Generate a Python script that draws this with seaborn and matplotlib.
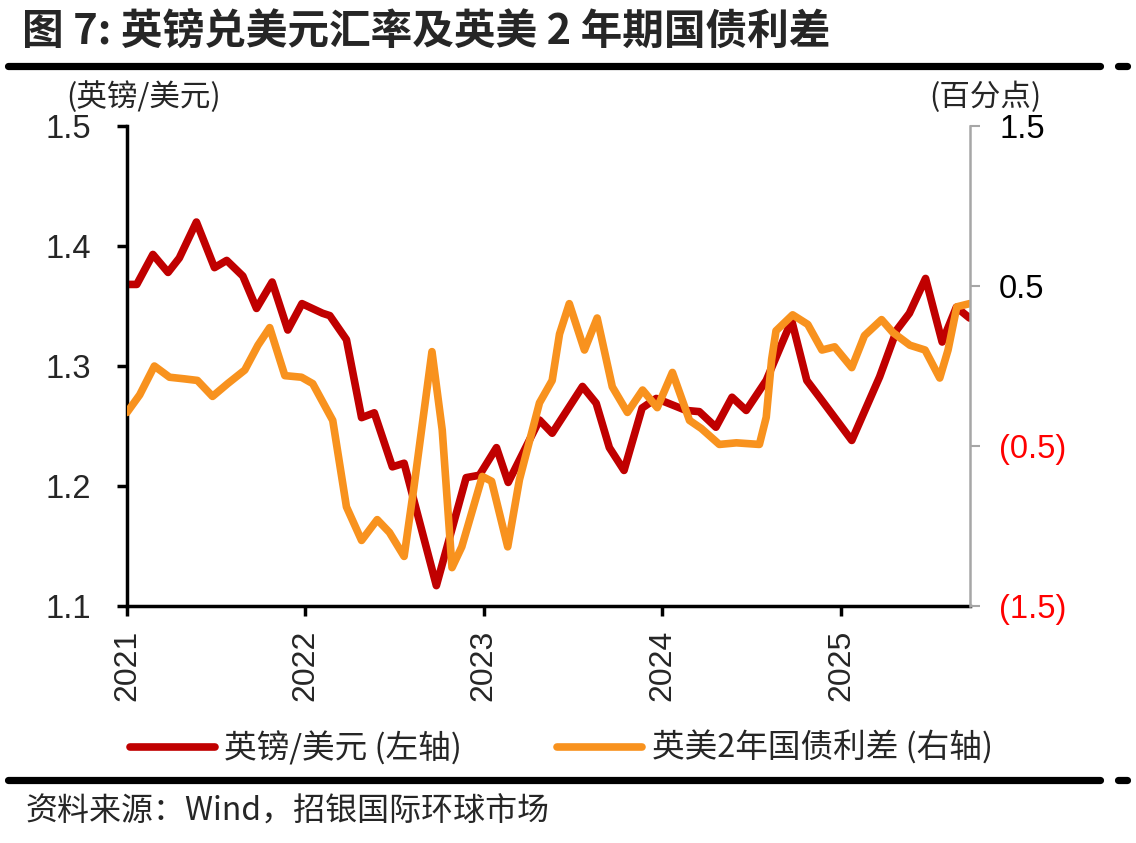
import pandas as pd
import seaborn as sns
import matplotlib.pyplot as plt
from matplotlib.lines import Line2D

# GBP/USD (left axis)
gbp_dates = ['2021-01-01', '2021-01-21', '2021-02-23', '2021-03-26', '2021-04-18', '2021-05-23',
             '2021-06-29', '2021-07-24', '2021-08-26', '2021-09-23', '2021-10-25', '2021-11-26',
             '2021-12-25', '2022-02-05', '2022-02-20', '2022-03-26', '2022-04-26', '2022-05-22',
             '2022-06-28', '2022-07-22', '2022-09-26', '2022-11-26', '2022-12-23', '2023-01-27',
             '2023-02-20', '2023-04-25', '2023-05-21', '2023-07-22', '2023-08-19', '2023-09-15',
             '2023-10-15', '2023-11-21', '2023-12-20', '2024-02-19', '2024-03-17', '2024-04-20',
             '2024-05-23', '2024-06-21', '2024-08-01', '2024-09-22', '2024-10-23', '2024-11-18',
             '2025-01-23', '2025-03-21', '2025-04-25', '2025-05-21', '2025-06-23', '2025-07-27',
             '2025-08-25', '2025-09-21']
gbp_values = [1.368, 1.368, 1.393, 1.378, 1.390, 1.420,
              1.382, 1.388, 1.375, 1.348, 1.370, 1.330,
              1.352, 1.344, 1.342, 1.322, 1.257, 1.261,
              1.216, 1.219, 1.117, 1.207, 1.209, 1.232,
              1.203, 1.255, 1.244, 1.283, 1.269, 1.232,
              1.213, 1.265, 1.273, 1.263, 1.262, 1.249,
              1.274, 1.263, 1.288, 1.338, 1.288, 1.274,
              1.238, 1.291, 1.330, 1.344, 1.373, 1.320,
              1.349, 1.340]

# UK-US 2y yield spread, percentage points (right axis)
spread_dates = ['2021-01-01', '2021-01-27', '2021-02-26', '2021-03-29', '2021-04-28', '2021-05-25',
                '2021-06-25', '2021-07-26', '2021-08-30', '2021-09-26', '2021-10-20', '2021-11-20',
                '2021-12-24', '2022-01-16', '2022-02-26', '2022-03-26', '2022-04-26', '2022-05-28',
                '2022-06-22', '2022-07-22', '2022-08-11', '2022-09-17', '2022-10-08', '2022-10-28',
                '2022-11-17', '2022-12-29', '2023-01-17', '2023-02-19', '2023-03-15', '2023-04-25',
                '2023-05-21', '2023-06-05', '2023-06-25', '2023-07-26', '2023-08-21', '2023-09-21',
                '2023-10-22', '2023-11-22', '2023-12-22', '2024-01-22', '2024-02-26', '2024-03-21',
                '2024-04-27', '2024-06-01', '2024-07-18', '2024-08-01', '2024-08-12', '2024-08-21',
                '2024-09-24', '2024-10-25', '2024-11-23', '2024-12-19', '2025-01-23', '2025-02-18',
                '2025-03-25', '2025-04-17', '2025-05-22', '2025-06-22', '2025-07-22', '2025-08-08',
                '2025-08-26', '2025-09-21']
spread_values = [-0.29, -0.18, 0.00, -0.07, -0.08, -0.09,
                 -0.19, -0.11, -0.025, 0.13, 0.24, -0.06,
                 -0.07, -0.11, -0.34, -0.88, -1.09, -0.96,
                 -1.04, -1.19, -0.76, 0.09, -0.40, -1.26,
                 -1.13, -0.69, -0.72, -1.13, -0.71, -0.23,
                 -0.09, 0.20, 0.39, 0.10, 0.30, -0.13,
                 -0.29, -0.15, -0.26, -0.04, -0.34, -0.39,
                 -0.49, -0.48, -0.49, -0.32, 0.04, 0.22,
                 0.32, 0.26, 0.10, 0.12, -0.01, 0.19,
                 0.29, 0.21, 0.13, 0.10, -0.075, 0.10,
                 0.37, 0.39]

years = ['2021', '2022', '2023', '2024', '2025']
left_ticks = [1.1, 1.2, 1.3, 1.4, 1.5]
right_ticks = [-1.5, -0.5, 0.5, 1.5]
right_labels = ['(1.5)', '(0.5)', '0.5', '1.5']

RED = '#C00000'
ORANGE = '#F8921E'
CJK = ['Noto Sans CJK SC', 'DejaVu Sans']
NUM = 'Liberation Sans'

sns.set_style('white')
plt.rcParams['font.family'] = CJK

gbp = pd.DataFrame({'date': pd.to_datetime(gbp_dates), 'value': gbp_values})
spread = pd.DataFrame({'date': pd.to_datetime(spread_dates), 'value': spread_values})

fig = plt.figure(figsize=(11.36, 8.43), dpi=100)
ax = fig.add_axes([0.1118, 0.2811, 0.7421, 0.5694])
ax2 = ax.twinx()

sns.lineplot(data=gbp, x='date', y='value', ax=ax, color=RED, linewidth=5.5,
             solid_joinstyle='round', solid_capstyle='round')
sns.lineplot(data=spread, x='date', y='value', ax=ax2, color=ORANGE, linewidth=5.5,
             solid_joinstyle='round', solid_capstyle='round')

ax.set_xlim(pd.Timestamp('2021-01-01'), pd.Timestamp('2025-09-22'))
ax.set_ylim(1.1, 1.5)
ax2.set_ylim(-1.5, 1.5)
for a in (ax, ax2):
    a.set_xlabel('')
    a.set_ylabel('')

ax.set_xticks(pd.to_datetime([y + '-01-01' for y in years]))
ax.set_xticklabels(years, rotation=90, fontsize=23, family=NUM)
ax.set_yticks(left_ticks)
ax.set_yticklabels([f'{v:.1f}' for v in left_ticks], fontsize=23.5, family=NUM)
ax2.set_yticks(right_ticks)
ax2.set_yticklabels(right_labels, fontsize=23.5, family=NUM)
for lab, v in zip(ax2.get_yticklabels(), right_ticks):
    lab.set_color('red' if v < 0 else 'black')

for s in ['top', 'right']:
    ax.spines[s].set_visible(False)
    ax2.spines[s].set_visible(False)
ax2.spines['left'].set_visible(False)
ax2.spines['bottom'].set_visible(False)
ax.spines['left'].set_linewidth(2.5)
ax.spines['left'].set_color('black')
ax.spines['bottom'].set_linewidth(2.5)
ax.spines['bottom'].set_color('black')
ax2.spines['right'].set_visible(True)
ax2.spines['right'].set_color('#A6A6A6')
ax2.spines['right'].set_linewidth(1.8)

ax.tick_params(axis='y', direction='out', length=7, width=2.5, color='black', pad=19, left=True)
ax.tick_params(axis='x', direction='out', length=7, width=2.5, color='black', pad=10, bottom=True)
ax2.tick_params(axis='y', direction='out', length=7, width=1.5, color='#A6A6A6', pad=14, right=True)
ax.grid(False)
ax2.grid(False)

# title, unit labels, rules
fig.text(0.019, 0.962, '图 7: 英镑兑美元汇率及英美 2 年期国债利差', fontsize=30,
         fontweight='bold', va='center', ha='left', family=CJK)
fig.text(0.058, 0.885, '(英镑/美元)', fontsize=22, va='center', ha='left', family=CJK)
fig.text(0.917, 0.885, '(百分点)', fontsize=22, va='center', ha='right', family=CJK)

for y in (0.9217, 0.0747):
    fig.add_artist(Line2D([0.007, 0.968], [y, y], color='black', linewidth=5.2,
                          transform=fig.transFigure))
    fig.add_artist(Line2D([0.984, 0.992], [y, y], color='black', linewidth=5.2,
                          transform=fig.transFigure))

handles = [Line2D([], [], color=RED, linewidth=5.5, solid_capstyle='round'),
           Line2D([], [], color=ORANGE, linewidth=5.5, solid_capstyle='round')]
fig.legend(handles, ['英镑/美元 (左轴)', '英美2年国债利差 (右轴)'], loc='center',
           bbox_to_anchor=(0.494, 0.1127), ncol=2, frameon=False,
           prop={'family': CJK, 'size': 23.5}, handlelength=2.6, handletextpad=0.3,
           columnspacing=2.9)

fig.text(0.022, 0.0368, '资料来源：Wind，招银国际环球市场', fontsize=23,
         va='center', ha='left', family=CJK)

fig.savefig('out.png', dpi=100)
